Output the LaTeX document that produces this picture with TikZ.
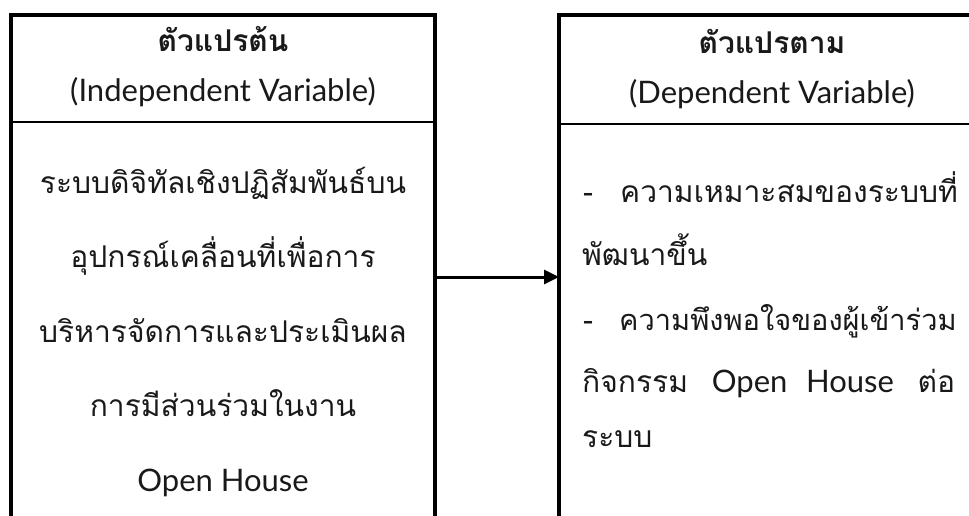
\documentclass[tikz,border=0pt]{standalone}
\usepackage{fontspec}
\newfontfamily\thai[Script=Thai]{Loma}
\newfontfamily\latinfont{Lato}
\newcommand{\lat}[1]{{\latinfont\fontsize{31}{36}\selectfont #1}}
\usetikzlibrary{arrows.meta}
\begin{document}
\begin{tikzpicture}[x=1pt,y=-1pt,
  txt/.style={font=\thai\fontsize{30}{36}\selectfont, inner sep=0pt, text=black!90},
  head/.style={txt, font=\thai\bfseries\fontsize{30}{36}\selectfont},
  boxframe/.style={draw, line width=3.5pt, inner sep=0pt, outer sep=0pt, minimum height=524pt},
  sep/.style={line width=1.5pt},
  conn/.style={line width=3pt, -{Triangle[length=15pt,width=14pt]}}]
\useasboundingbox (0,0) rectangle (969,515);
\clip (0,0) rectangle (969,515);
% boxes
\node[boxframe, minimum width=424pt] (leftbox) at (223,277) {};
\node[boxframe, minimum width=450pt] (rightbox) at (784,277) {};
\draw[sep] (leftbox.west |- 0,122) -- (leftbox.east |- 0,122);
\draw[sep] (rightbox.west |- 0,124) -- (rightbox.east |- 0,124);
% arrow
\draw[conn] (leftbox.east) -- (rightbox.west);
% left header
\node[head, anchor=base] (lh1) at (223,51) {ตัวแปรต้น};
\node[txt, anchor=base] (lh2) at (223,101) {\lat{(Independent Variable)}};
% left body
\node[txt, anchor=base] (l1) at (223,193) {ระบบดิจิทัลเชิงปฏิสัมพันธ์บน};
\node[txt, anchor=base] (l2) at (223,267.5) {อุปกรณ์เคลื่อนที่เพื่อการ};
\node[txt, anchor=base] (l3) at (223,342) {บริหารจัดการและประเมินผล};
\node[txt, anchor=base] (l4) at (223,416) {การมีส่วนร่วมในงาน};
\node[txt, anchor=base] (l5) at (223,491) {\lat{Open House}};
% right header
\node[head, anchor=base] (rh1) at (772,53) {ตัวแปรตาม};
\node[txt, anchor=base] (rh2) at (772,103) {\lat{(Dependent Variable)}};
% right body
\node[txt, anchor=base west] (d1) at (583,202) {-};
\node[txt, anchor=base west] (r1) at (620,202) {ความเหมาะสมของระบบที่};
\node[txt, anchor=base west] (r2) at (582,265) {พัฒนาขึ้น};
\node[txt, anchor=base west] (d2) at (583,330) {-};
\node[txt, anchor=base west, font=\thai\fontsize{29}{36}\selectfont] (r3) at (619,330) {ความพึงพอใจของผู้เข้าร่วม};
\node[txt, anchor=base west] (r4) at (582,392) {\makebox[373pt][s]{กิจกรรม \lat{Open House} ต่อ}};
\node[txt, anchor=base west] (r5) at (582,447) {ระบบ};
\end{tikzpicture}
\end{document}
